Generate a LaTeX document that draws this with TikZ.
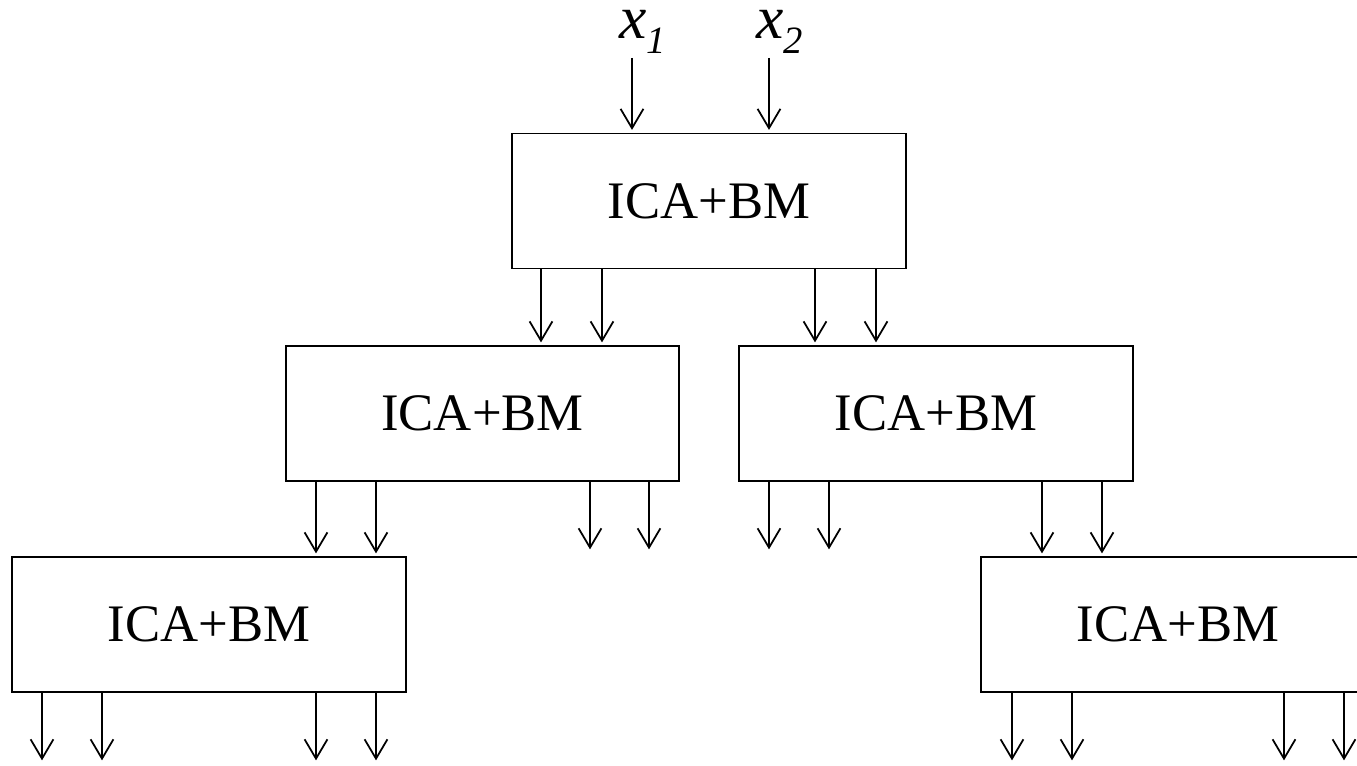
\documentclass[tikz,border=0pt]{standalone}
\usepackage{fontspec}
\setmainfont{Liberation Serif}
\usetikzlibrary{arrows.meta}
\begin{document}
\begin{tikzpicture}[x=0.02cm,y=-0.02cm,
 box/.style={draw,line width=1.1pt,minimum width=7.88cm,minimum height=2.7cm,inner sep=0pt,font=\fontsize{30}{36}\selectfont},
 arr/.style={line width=1pt,-{Straight Barb[length=11pt,width=13pt,line width=1pt]},shorten >=1.5pt},
 lbl/.style={inner sep=0pt,anchor=base west}]
\useasboundingbox (0,0) rectangle (1357,766);
\begin{scope}
\clip (0,0) rectangle (1357,766);
% boxes
\node[box] (top) at (709,201) {ICA+BM};
\node[box] (ml) at (482.5,413.5) {ICA+BM};
\node[box] (mr) at (936,413.5) {ICA+BM};
\node[box] (bl) at (209,624.5) {ICA+BM};
\node[box] (br) at (1178,624.5) {ICA+BM};
% input labels
\node[lbl] (lx1) at (619,39) {\fontsize{35}{40}\selectfont\itshape x\raisebox{-8pt}{\fontsize{22}{26}\selectfont 1}};
\node[lbl] (lx2) at (756,39) {\fontsize{35}{40}\selectfont\itshape x\raisebox{-8pt}{\fontsize{22}{26}\selectfont 2}};
\coordinate (in1) at (632,58);
\coordinate (in2) at (769,58);
\draw[arr] (in1) -- (top.north -| in1);
\draw[arr] (in2) -- (top.north -| in2);
% top -> middle
\foreach \x in {541,602} \draw[arr] (top.south -| \x,0) -- (ml.north -| \x,0);
\foreach \x in {815,876} \draw[arr] (top.south -| \x,0) -- (mr.north -| \x,0);
% middle -> bottom
\foreach \x in {316,376} \draw[arr] (ml.south -| \x,0) -- (bl.north -| \x,0);
\foreach \x in {1042,1102} \draw[arr] (mr.south -| \x,0) -- (br.north -| \x,0);
% free outputs of middle boxes
\foreach \x in {590,649} {\coordinate (o\x) at (\x,552); \draw[arr] (ml.south -| o\x) -- (o\x);}
\foreach \x in {769,829} {\coordinate (o\x) at (\x,552); \draw[arr] (mr.south -| o\x) -- (o\x);}
% free outputs of bottom boxes
\foreach \x in {42,102,316,376} {\coordinate (o\x) at (\x,763); \draw[arr] (bl.south -| o\x) -- (o\x);}
\foreach \x in {1012,1072,1284,1344} {\coordinate (o\x) at (\x,763); \draw[arr] (br.south -| o\x) -- (o\x);}
\end{scope}
\end{tikzpicture}
\end{document}
